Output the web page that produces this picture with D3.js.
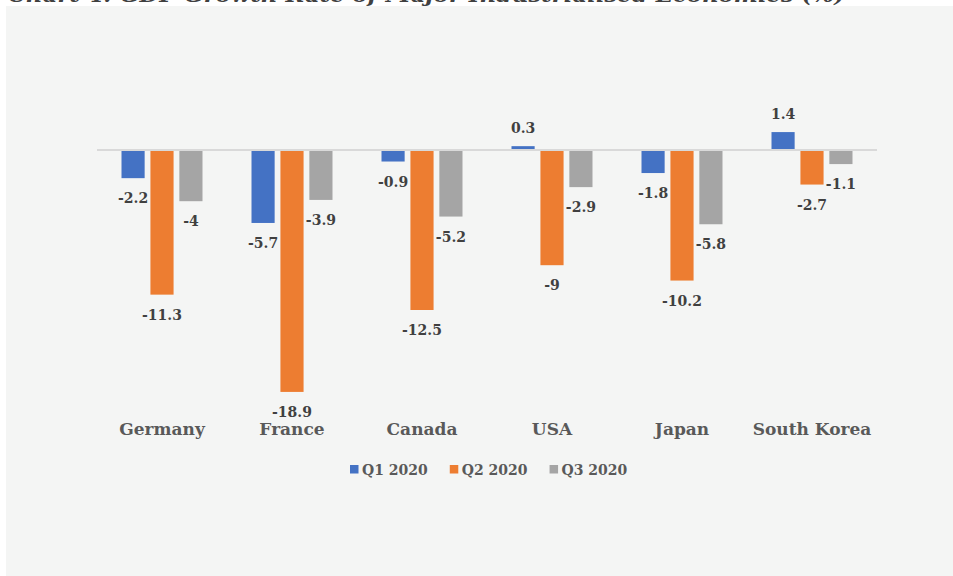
<!DOCTYPE html>
<html>
<head>
<meta charset="utf-8">
<script src="https://cdn.jsdelivr.net/npm/d3@7/dist/d3.min.js"></script>
<style>
  html, body { margin: 0; padding: 0; background: #ffffff; }
  svg { display: block; }
</style>
</head>
<body>
<script>
const categories = ["Germany", "France", "Canada", "USA", "Japan", "South Korea"];
const seriesNames = ["Q1 2020", "Q2 2020", "Q3 2020"];
const q1 = [-2.2, -5.7, -0.9, 0.3, -1.8, 1.4];
const q2 = [-11.3, -18.9, -12.5, -9, -10.2, -2.7];
const q3 = [-4, -3.9, -5.2, -2.9, -5.8, -1.1];
const colors = ["#4472C4", "#ED7D31", "#A5A5A5"];
const titleText = "Chart 4: GDP Growth Rate of Major Industrialised Economies (%)";

const W = 953, H = 576;
const serif = "'DejaVu Serif', 'Liberation Serif', serif";
const svg = d3.select("body").append("svg").attr("width", W).attr("height", H);

svg.append("rect").attr("x", 0).attr("y", 0).attr("width", W).attr("height", H).attr("fill", "#ffffff");

// title (cut off at the top of the picture, as in the reference)
svg.append("text").attr("x", 8).attr("y", 1.5)
  .attr("font-family", serif).attr("font-weight", "bold").attr("font-style", "italic")
  .attr("font-size", 21).attr("fill", "#404040")
  .attr("textLength", 837).attr("lengthAdjust", "spacingAndGlyphs")
  .text(titleText);

svg.append("rect").attr("x", 6).attr("y", 6).attr("width", W - 6).attr("height", H - 6).attr("fill", "#F4F5F4");

const series = [q1, q2, q3];
const data = categories.map((c, i) => ({ cat: c, vals: series.map((s, j) => ({ key: seriesNames[j], v: s[i], j })) }));

const x0 = d3.scaleBand().domain(categories).range([97, 877]).paddingInner(0).paddingOuter(0);
const x1 = d3.scaleBand().domain(seriesNames).range([24.5, 130 - 24.5]).paddingInner(0.2).paddingOuter(0);
const y = d3.scaleLinear().domain([-20, 10]).range([406, 22]);

const g = svg.append("g");

const groups = g.selectAll("g.cat").data(data).join("g")
  .attr("transform", d => `translate(${x0(d.cat)},0)`);

groups.selectAll("rect").data(d => d.vals).join("rect")
  .attr("x", d => x1(d.key))
  .attr("width", x1.bandwidth())
  .attr("y", d => Math.min(y(d.v), y(0)))
  .attr("height", d => Math.abs(y(d.v) - y(0)))
  .attr("fill", d => colors[d.j]);

// zero line
g.append("line").attr("x1", 97).attr("x2", 877).attr("y1", y(0)).attr("y2", y(0))
  .attr("stroke", "#D9D9D9").attr("stroke-width", 2);

// data labels
groups.selectAll("text.lbl").data(d => d.vals).join("text").attr("class", "lbl")
  .attr("x", d => x1(d.key) + x1.bandwidth() / 2)
  .attr("y", d => d.v < 0 ? y(d.v) + 25 : y(d.v) - 13)
  .attr("text-anchor", "middle")
  .attr("font-family", serif).attr("font-weight", "bold").attr("font-size", 14)
  .attr("fill", "#404040")
  .text(d => String(d.v));

// category axis labels
const xAxis = d3.axisBottom(x0).tickSize(0).tickPadding(0);
const ax = svg.append("g").attr("transform", "translate(0,422)").call(xAxis);
ax.select(".domain").remove();
ax.selectAll("text").attr("font-family", serif).attr("font-weight", "bold").attr("font-size", 17)
  .attr("fill", "#595959").attr("dy", "0.77em");

// legend
const leg = svg.append("g").attr("transform", "translate(350,0)");
let lx = 0;
seriesNames.forEach((n, j) => {
  const it = leg.append("g").attr("transform", `translate(${lx},0)`);
  it.append("rect").attr("x", 0).attr("y", 465).attr("width", 8.5).attr("height", 8.5).attr("fill", colors[j]);
  const t = it.append("text").attr("x", 12).attr("y", 475)
    .attr("font-family", serif).attr("font-weight", "bold").attr("font-size", 14)
    .attr("fill", "#595959").text(n);
  lx += 12 + t.node().getComputedTextLength() + 22;
});
</script>
</body>
</html>
